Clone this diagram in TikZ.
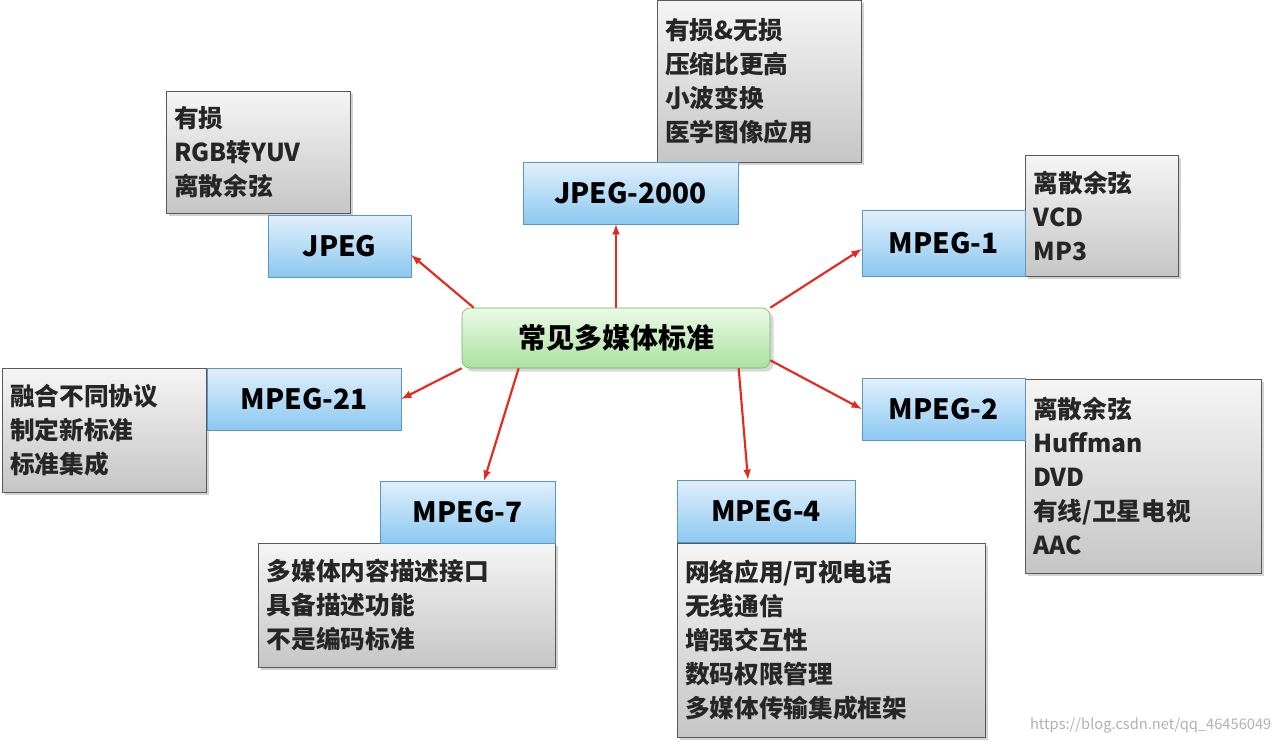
\documentclass[tikz,border=0pt]{standalone}
\usepackage{fontspec}
\setmainfont{Noto Sans CJK SC}
\usetikzlibrary{shadows}
\definecolor{bluetop}{RGB}{225,240,252}
\definecolor{bluebot}{RGB}{140,200,240}
\definecolor{blueedge}{RGB}{90,150,200}
\definecolor{greentop}{RGB}{235,250,230}
\definecolor{greenbot}{RGB}{170,225,160}
\definecolor{greenedge}{RGB}{110,180,100}
\definecolor{arrred}{RGB}{230,40,30}
\tikzset{
  bluebox/.style={draw=blueedge, top color=bluetop, bottom color=bluebot, font=\fontsize{21}{24}\selectfont\bfseries, inner sep=0pt},
  centerbox/.style={draw=greenedge, rounded corners=6pt, top color=greentop, bottom color=greenbot, font=\fontsize{21}{24}\selectfont\bfseries, inner sep=0pt, drop shadow={opacity=0.3}},
  graybox/.style={draw=gray!70!black, top color=gray!8, bottom color=gray!45, anchor=north west, align=left, inner sep=6pt, font=\fontsize{18.5}{25.5}\selectfont\bfseries, text=black!85, drop shadow={opacity=0.35, shadow xshift=2pt, shadow yshift=-2pt}},
  arr/.style={draw=arrred, line width=1.6pt, -latex}
}
\begin{document}
\begin{tikzpicture}[x=0.75pt,y=-0.75pt]
\useasboundingbox[fill=white] (0,0) rectangle (1282,743);
% gray info boxes
\node[graybox, minimum width=138pt, minimum height=91.5pt, text width=126pt] (g1) at (166,91) {有损\\RGB转YUV\\离散余弦};
\node[graybox, minimum width=153pt, minimum height=121.5pt, text width=141pt] (g2) at (657,0) {有损\&无损\\压缩比更高\\小波变换\\医学图像应用};
\node[graybox, minimum width=114.75pt, minimum height=90.75pt, text width=102pt] (g3) at (1025,155) {离散余弦\\VCD\\MP3};
\node[graybox, minimum width=153pt, minimum height=93pt, text width=141pt] (g4) at (2,368) {融合不同协议\\制定新标准\\标准集成};
\node[graybox, minimum width=177pt, minimum height=145.5pt, text width=165pt] (g5) at (1025,379) {离散余弦\\Huffman\\DVD\\有线/卫星电视\\AAC};
\node[graybox, minimum width=222.75pt, minimum height=93pt, text width=210pt] (g6) at (258,543) {多媒体内容描述接口\\具备描述功能\\不是编码标准};
\node[graybox, minimum width=231pt, minimum height=145.5pt, text width=219pt] (g7) at (677,543) {网络应用/可视电话\\无线通信\\增强交互性\\数码权限管理\\多媒体传输集成框架};
% blue boxes
\node[bluebox, minimum width=107.25pt, minimum height=46.5pt] (jpeg) at (339.5,246) {JPEG};
\node[bluebox, minimum width=161.25pt, minimum height=46.5pt] (j2k) at (630.5,193) {JPEG-2000};
\node[bluebox, minimum width=122.25pt, minimum height=49.5pt] (m1) at (943.5,243) {MPEG-1};
\node[bluebox, minimum width=145.5pt, minimum height=46.5pt] (m21) at (304,399) {MPEG-21};
\node[bluebox, minimum width=122.25pt, minimum height=46.5pt] (m2) at (943.5,409) {MPEG-2};
\node[bluebox, minimum width=131.25pt, minimum height=46.5pt] (m7) at (467.5,512) {MPEG-7};
\node[bluebox, minimum width=133.5pt, minimum height=46.5pt] (m4) at (766,511) {MPEG-4};
% center
\node[centerbox, minimum width=231pt, minimum height=45pt] (c) at (616,338) {常见多媒体标准};
% arrows
\draw[arr] (c.north west) ++(12,0) -- (jpeg.east |- 0,255);
\draw[arr] (c.north) -- (c.north |- j2k.south);
\draw[arr] (c.north east) -- (m1.west |- 0,249);
\draw[arr] (c.south west) -- (m21.east);
\draw[arr] ([yshift=6]c.south east) -- (m2.west);
\draw[arr] ([xshift=-73]c.south) -- (m7.north -| 484,0);
\draw[arr] ([xshift=92]c.south) -- (m4.north -| 748,0);
\node[anchor=south east, text=gray!60, font=\fontsize{11}{12}\selectfont] (wm) at (1276,738) {https://blog.csdn.net/qq\_46456049};
\end{tikzpicture}
\end{document}
